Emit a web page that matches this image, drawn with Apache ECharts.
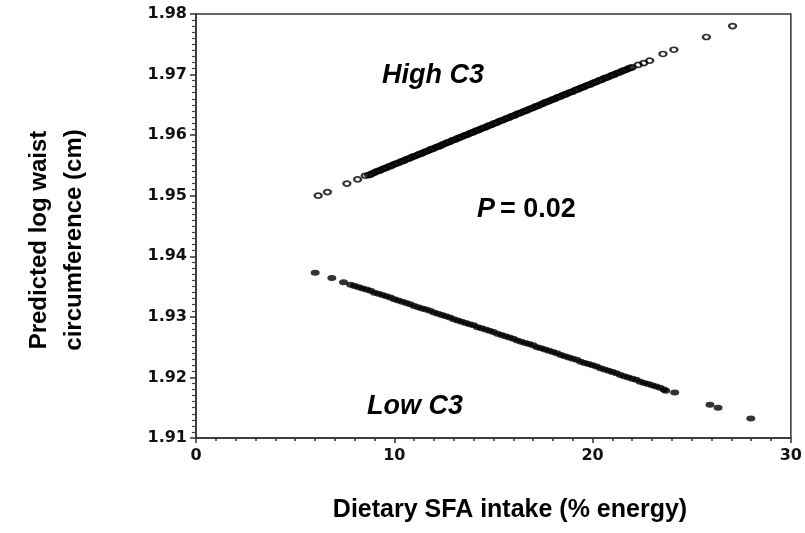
<!DOCTYPE html>
<html>
<head>
<meta charset="utf-8">
<script src="https://cdn.jsdelivr.net/npm/echarts@6/dist/echarts.min.js"></script>
<style>
  html, body { margin: 0; padding: 0; background: #fff; }
  #chart { width: 805px; height: 533px; }
</style>
</head>
<body>
<div id="chart"></div>
<script>
// x ticks and y ticks
var xTicks = [0, 10, 20, 30];
var yTicks = [1.91, 1.92, 1.93, 1.94, 1.95, 1.96, 1.97, 1.98];

// High C3 predicted values [SFA %, log waist]
var highC3 = [
    [6.16, 1.9500], [6.63, 1.9506], [7.61, 1.9520], [8.15, 1.9527], [8.54, 1.9533],
    [8.7, 1.9534], [8.8, 1.9535], [8.9, 1.9537],
    [9.0, 1.9538], [9.1, 1.9540], [9.2, 1.9541], [9.3, 1.9542], [9.4, 1.9544],
    [9.5, 1.9545], [9.6, 1.9546], [9.7, 1.9548], [9.8, 1.9549], [9.9, 1.9550],
    [10.0, 1.9552], [10.1, 1.9553], [10.2, 1.9554], [10.3, 1.9556], [10.4, 1.9557],
    [10.5, 1.9558], [10.6, 1.9560], [10.7, 1.9561], [10.8, 1.9562], [10.9, 1.9564],
    [11.0, 1.9565], [11.1, 1.9566], [11.2, 1.9568], [11.3, 1.9569], [11.4, 1.9570],
    [11.5, 1.9572], [11.6, 1.9573], [11.7, 1.9574], [11.8, 1.9576], [11.9, 1.9577],
    [12.0, 1.9578], [12.1, 1.9580], [12.2, 1.9581], [12.3, 1.9582], [12.4, 1.9584],
    [12.5, 1.9585], [12.6, 1.9587], [12.7, 1.9588], [12.8, 1.9589], [12.9, 1.9591],
    [13.0, 1.9592], [13.1, 1.9593], [13.2, 1.9595], [13.3, 1.9596], [13.4, 1.9597],
    [13.5, 1.9599], [13.6, 1.9600], [13.7, 1.9601], [13.8, 1.9603], [13.9, 1.9604],
    [14.0, 1.9605], [14.1, 1.9607], [14.2, 1.9608], [14.3, 1.9609], [14.4, 1.9611],
    [14.5, 1.9612], [14.6, 1.9613], [14.7, 1.9615], [14.8, 1.9616], [14.9, 1.9617],
    [15.0, 1.9619], [15.1, 1.9620], [15.2, 1.9621], [15.3, 1.9623], [15.4, 1.9624],
    [15.5, 1.9625], [15.6, 1.9627], [15.7, 1.9628], [15.8, 1.9629], [15.9, 1.9631],
    [16.0, 1.9632], [16.1, 1.9633], [16.2, 1.9635], [16.3, 1.9636], [16.4, 1.9637],
    [16.5, 1.9639], [16.6, 1.9640], [16.7, 1.9641], [16.8, 1.9643], [16.9, 1.9644],
    [17.0, 1.9645], [17.1, 1.9647], [17.2, 1.9648], [17.3, 1.9649], [17.4, 1.9651],
    [17.5, 1.9652], [17.6, 1.9654], [17.7, 1.9655], [17.8, 1.9656], [17.9, 1.9658],
    [18.0, 1.9659], [18.1, 1.9660], [18.2, 1.9662], [18.3, 1.9663], [18.4, 1.9664],
    [18.5, 1.9666], [18.6, 1.9667], [18.7, 1.9668], [18.8, 1.9670], [18.9, 1.9671],
    [19.0, 1.9672], [19.1, 1.9674], [19.2, 1.9675], [19.3, 1.9676], [19.4, 1.9678],
    [19.5, 1.9679], [19.6, 1.9680], [19.7, 1.9682], [19.8, 1.9683], [19.9, 1.9684],
    [20.0, 1.9686], [20.1, 1.9687], [20.2, 1.9688], [20.3, 1.9690], [20.4, 1.9691],
    [20.5, 1.9692], [20.6, 1.9694], [20.7, 1.9695], [20.8, 1.9696], [20.9, 1.9698],
    [21.0, 1.9699], [21.1, 1.9700], [21.2, 1.9702], [21.3, 1.9703], [21.4, 1.9704],
    [21.5, 1.9706], [21.6, 1.9707], [21.7, 1.9708], [21.8, 1.9710], [21.9, 1.9711],
    [22.0, 1.9712], [22.3, 1.9716], [22.58, 1.9719], [22.88, 1.9723], [23.55, 1.9734],
    [24.1, 1.9741], [25.74, 1.9762], [27.06, 1.9780]
];

// Low C3 predicted values [SFA %, log waist]
var lowC3 = [
    [6.01, 1.9373], [6.85, 1.9364], [7.44, 1.9357],
    [7.8, 1.9353], [8.0, 1.9351], [8.2, 1.9349], [8.4, 1.9347], [8.6, 1.9345],
    [8.8, 1.9343], [9.0, 1.9340], [9.2, 1.9338], [9.4, 1.9336], [9.6, 1.9334],
    [9.8, 1.9332], [10.0, 1.9329], [10.2, 1.9327], [10.4, 1.9325], [10.6, 1.9323],
    [10.8, 1.9321], [11.0, 1.9318], [11.2, 1.9316], [11.4, 1.9314], [11.6, 1.9312],
    [11.8, 1.9310], [12.0, 1.9307], [12.2, 1.9305], [12.4, 1.9303], [12.6, 1.9301],
    [12.8, 1.9299], [13.0, 1.9296], [13.2, 1.9294], [13.4, 1.9292], [13.6, 1.9290],
    [13.8, 1.9288], [14.0, 1.9286], [14.2, 1.9283], [14.4, 1.9281], [14.6, 1.9279],
    [14.8, 1.9277], [15.0, 1.9275], [15.2, 1.9272], [15.4, 1.9270], [15.6, 1.9268],
    [15.8, 1.9266], [16.0, 1.9264], [16.2, 1.9261], [16.4, 1.9259], [16.6, 1.9257],
    [16.8, 1.9255], [17.0, 1.9253], [17.2, 1.9250], [17.4, 1.9248], [17.6, 1.9246],
    [17.8, 1.9244], [18.0, 1.9242], [18.2, 1.9240], [18.4, 1.9237], [18.6, 1.9235],
    [18.8, 1.9233], [19.0, 1.9231], [19.2, 1.9229], [19.4, 1.9226], [19.6, 1.9224],
    [19.8, 1.9222], [20.0, 1.9220], [20.2, 1.9218], [20.4, 1.9215], [20.6, 1.9213],
    [20.8, 1.9211], [21.0, 1.9209], [21.2, 1.9207], [21.4, 1.9204], [21.6, 1.9202],
    [21.8, 1.9200], [22.0, 1.9198], [22.2, 1.9196], [22.4, 1.9193], [22.6, 1.9191],
    [22.8, 1.9189], [23.0, 1.9187], [23.2, 1.9185], [23.4, 1.9183], [23.6, 1.9180],
    [23.69, 1.9178], [24.14, 1.9175], [25.92, 1.9155], [26.33, 1.9150], [27.98, 1.9132]
];

var labelFont = {
    color: '#111',
    fontFamily: 'DejaVu Sans',
    fontWeight: 'bold',
    fontSize: 16
};

var myChart = echarts.init(document.getElementById('chart'));
var option = {
    animation: false,
    backgroundColor: '#fff',
    grid: {
        left: 196,
        right: 14,
        top: 14,
        bottom: 95,
        show: true,
        borderColor: '#333',
        borderWidth: 1.5
    },
    xAxis: {
        type: 'value',
        min: xTicks[0],
        max: xTicks[xTicks.length - 1],
        interval: 10,
        axisLine: { lineStyle: { color: '#333', width: 1.5 } },
        axisTick: { length: 5, lineStyle: { color: '#333', width: 1.5 } },
        minorTick: { show: true, splitNumber: 10, length: 3, lineStyle: { color: '#333', width: 1.5 } },
        splitLine: { show: false },
        axisLabel: Object.assign({ margin: 10 }, labelFont)
    },
    yAxis: {
        type: 'value',
        min: yTicks[0],
        max: yTicks[yTicks.length - 1],
        interval: 0.01,
        axisLine: { show: true, lineStyle: { color: '#333', width: 1.5 } },
        axisTick: { show: true, length: 6, lineStyle: { color: '#333', width: 1.5 } },
        minorTick: { show: true, splitNumber: 10, length: 4, lineStyle: { color: '#444', width: 1.2 } },
        splitLine: { show: false },
        axisLabel: Object.assign({
            margin: 9,
            formatter: function (v) { return v.toFixed(2); }
        }, labelFont)
    },
    graphic: [
        {
            type: 'text', x: 57, y: 240, rotation: Math.PI / 2,
            style: {
                text: 'Predicted log waist\ncircumference (cm)',
                fontFamily: 'Liberation Sans', fontWeight: 'bold', fontSize: 24,
                lineHeight: 35, fill: '#000', align: 'center', verticalAlign: 'middle'
            }
        },
        {
            type: 'text', x: 510, y: 510,
            style: {
                text: 'Dietary SFA intake (% energy)',
                fontFamily: 'Liberation Sans', fontWeight: 'bold', fontSize: 25,
                fill: '#000', align: 'center', verticalAlign: 'middle'
            }
        },
        {
            type: 'text', x: 382, y: 76,
            style: {
                text: 'High C3',
                fontFamily: 'Liberation Sans', fontWeight: 'bold', fontStyle: 'italic', fontSize: 27,
                fill: '#000', align: 'left', verticalAlign: 'middle'
            }
        },
        {
            type: 'text', x: 367, y: 407,
            style: {
                text: 'Low C3',
                fontFamily: 'Liberation Sans', fontWeight: 'bold', fontStyle: 'italic', fontSize: 27,
                fill: '#000', align: 'left', verticalAlign: 'middle'
            }
        },
        {
            type: 'text', x: 477, y: 210,
            style: {
                text: 'P',
                fontFamily: 'Liberation Sans', fontWeight: 'bold', fontStyle: 'italic', fontSize: 27,
                fill: '#000', align: 'left', verticalAlign: 'middle'
            }
        },
        {
            type: 'text', x: 500, y: 210,
            style: {
                text: '= 0.02',
                fontFamily: 'Liberation Sans', fontWeight: 'bold', fontSize: 27,
                fill: '#000', align: 'left', verticalAlign: 'middle'
            }
        }
    ],
    series: [
        {
            name: 'High C3',
            type: 'scatter',
            data: highC3,
            symbol: 'circle',
            symbolSize: [7, 5],
            itemStyle: { color: 'transparent', borderColor: '#000', borderWidth: 2 }
        },
        {
            name: 'Low C3',
            type: 'scatter',
            data: lowC3,
            symbol: 'circle',
            symbolSize: [9, 6],
            itemStyle: { color: '#000' }
        }
    ]
};
myChart.setOption(option);
window.addEventListener('resize', function () {
    myChart.resize();
});
</script>
</body>
</html>
